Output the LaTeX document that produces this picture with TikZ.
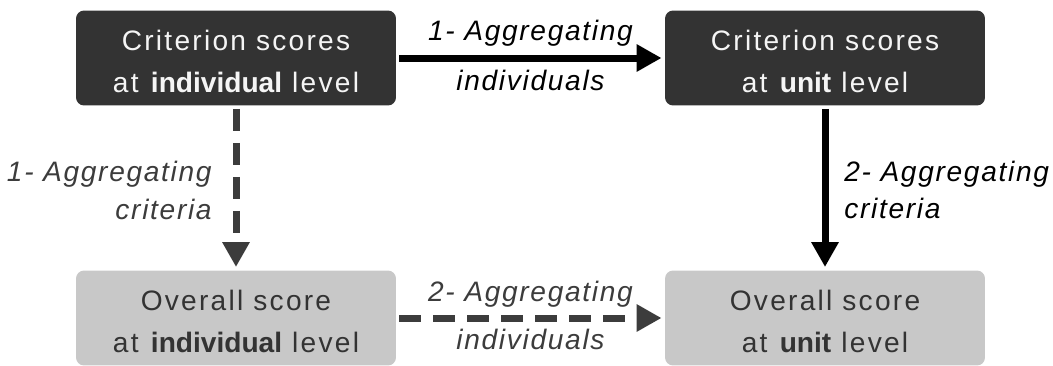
\documentclass[tikz,border=0pt]{standalone}
\usepackage{fontspec}
\setmainfont{Liberation Sans}
\newfontfamily\boxfont[LetterSpace=8,BoldFeatures={LetterSpace=0}]{Liberation Sans}
\newfontfamily\labelfont[LetterSpace=6]{Liberation Sans}
\usetikzlibrary{arrows.meta}
\tikzstyle{every path}=[line width=0.14cm]
\tikzstyle{unitbox}=[rounded corners=0.16cm, minimum width=6.4cm, minimum height=1.9cm, align=center, font=\boxfont\fontsize{16}{23.8}\selectfont]
\tikzstyle{darkbox}=[unitbox, fill=boxdark, text=boxtext]
\tikzstyle{lightbox}=[unitbox, fill=boxlight, text=boxdark]
\tikzstyle{every node}=[font=\labelfont\itshape\fontsize{16}{22}\selectfont]
\definecolor{boxdark}{RGB}{51,51,51}
\definecolor{boxlight}{RGB}{200,200,200}
\definecolor{boxtext}{RGB}{245,245,245}
\definecolor{dashline}{RGB}{60,60,60}
\begin{document}
\begin{tikzpicture}[x=0.02cm, y=-0.02cm,
    >={Triangle[length=0.5cm, width=0.52cm]}]
            \useasboundingbox (0, 0) rectangle (1053, 365);

            \node[darkbox] (critind) at (236, 58) {\rule{0pt}{0.55cm}Criterion scores\\at \textbf{individual} level};
            \node[darkbox] (critunit) at (825, 58) {\rule{0pt}{0.55cm}Criterion scores\\at \textbf{unit} level};
            \node[lightbox] (overind) at (236, 318) {\rule{0pt}{0.55cm}Overall score\\at \textbf{individual} level};
            \node[lightbox] (overunit) at (825, 318) {\rule{0pt}{0.55cm}Overall score\\at \textbf{unit} level};

            \draw [->, black] (critind) -- (critunit)
                node[pos=0.5, anchor=base, yshift=0.36cm, text=black]{1- Aggregating}
                node[pos=0.5, anchor=base, yshift=-0.66cm, text=black]{individuals};
            \draw [->, black] (critunit) -- (overunit)
                node[pos=0.46, anchor=base west, xshift=0.2cm, text=black]{2- Aggregating}
                node[pos=0.69, anchor=base west, xshift=0.2cm, text=black]{criteria};

            \draw [->, dashline, dash pattern=on 0.44cm off 0.24cm] (critind) -- (overind)
                node[pos=0.46, anchor=base east, xshift=-0.3cm, text=dashline]{1- Aggregating}
                node[pos=0.70, anchor=base east, xshift=-0.3cm, text=dashline]{criteria};
            \draw [->, dashline, dash pattern=on 0.44cm off 0.24cm] (overind) -- (overunit)
                node[pos=0.5, anchor=base, yshift=0.34cm, text=dashline]{2- Aggregating}
                node[pos=0.5, anchor=base, yshift=-0.62cm, text=dashline]{individuals};
        \end{tikzpicture}
\end{document}
